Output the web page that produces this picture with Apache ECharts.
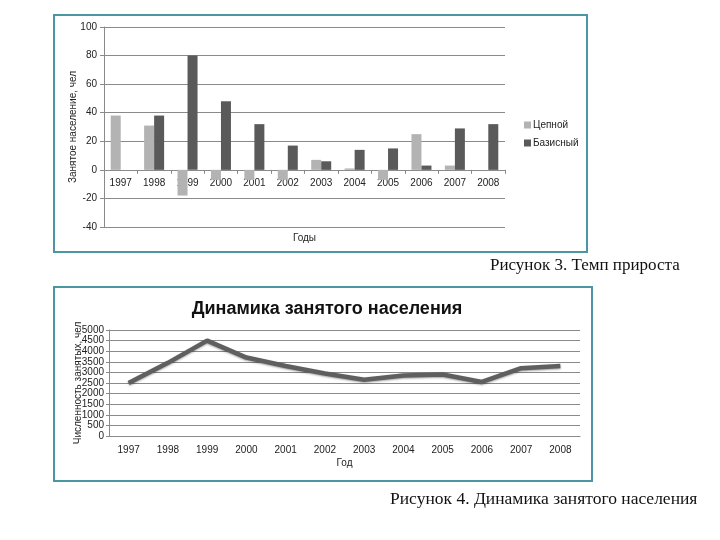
<!DOCTYPE html>
<html>
<head>
<meta charset="utf-8">
<script src="https://cdn.jsdelivr.net/npm/echarts@6/dist/echarts.min.js"></script>
<style>html,body{margin:0;padding:0;background:#fff}#c{width:720px;height:540px}</style>
</head>
<body>
<div id="c"></div>
<script>
const years = ['1997','1998','1999','2000','2001','2002','2003','2004','2005','2006','2007','2008'];
const chainValues = [38, 31, -18, -7, -7, -7, 7, 1, -7, 25, 3, 0];
const baseValues = [0, 38, 80, 48, 32, 17, 6, 14, 15, 3, 29, 32];
const employedValues = [2500, 3450, 4500, 3700, 3300, 2950, 2650, 2850, 2900, 2550, 3200, 3300];

const chart = echarts.init(document.getElementById('c'));
const F = 'Liberation Sans, Arial, sans-serif';
const gridLine = {show: true, lineStyle: {color: '#8a8a8a', width: 1}};
const axisLn = {show: true, lineStyle: {color: '#8a8a8a', width: 1}};
const plain = v => String(v);
chart.setOption({
  backgroundColor: '#ffffff',
  animation: false,
  title: {
    text: 'Динамика занятого населения',
    left: 322, top: 295, textAlign: 'center',
    textStyle: {fontFamily: F, fontSize: 18, fontWeight: 'bold', color: '#111'}
  },
  legend: {
    orient: 'vertical', left: 519, top: 115, itemWidth: 7, itemHeight: 7, itemGap: 8,
    icon: 'rect', data: ['Цепной', 'Базисный'],
    textStyle: {fontFamily: F, fontSize: 10, color: '#222', padding: [0, 0, 0, -3]}
  },
  grid: [
    {left: 104, right: 215, top: 27, height: 200},
    {left: 109, right: 140, top: 330, height: 106}
  ],
  xAxis: [
    {type: 'category', gridIndex: 0, data: years, offset: -57.14,
     axisLine: {show: true, onZero: false, lineStyle: {color: '#8a8a8a'}},
     axisTick: {show: true, length: 4, lineStyle: {color: '#8a8a8a'}},
     axisLabel: {fontFamily: F, fontSize: 10, color: '#222', margin: 8},
     name: 'Годы', nameLocation: 'middle', nameGap: 63,
     nameTextStyle: {fontFamily: F, fontSize: 10, color: '#222'}},
    {type: 'category', gridIndex: 1, data: years,
     axisLine: axisLn,
     axisTick: {show: false},
     axisLabel: {fontFamily: F, fontSize: 10, color: '#222', margin: 9},
     name: 'Год', nameLocation: 'middle', nameGap: 22,
     nameTextStyle: {fontFamily: F, fontSize: 10, color: '#222'}}
  ],
  yAxis: [
    {type: 'value', gridIndex: 0, min: -40, max: 100, interval: 20,
     axisLine: axisLn, axisTick: {show: true, length: 4, lineStyle: {color: '#8a8a8a'}},
     splitLine: gridLine,
     axisLabel: {fontFamily: F, fontSize: 10, color: '#222', margin: 7, formatter: plain},
     name: 'Занятое население, чел', nameLocation: 'middle', nameGap: 26, nameRotate: 90,
     nameMoveOverlap: false,
     nameTextStyle: {fontFamily: F, fontSize: 10, color: '#222'}},
    {type: 'value', gridIndex: 1, min: 0, max: 5000, interval: 500,
     axisLine: axisLn, axisTick: {show: true, length: 3, lineStyle: {color: '#8a8a8a'}},
     splitLine: gridLine,
     axisLabel: {fontFamily: F, fontSize: 10, color: '#222', margin: 5, formatter: plain},
     name: 'Численность занятых, чел', nameLocation: 'middle', nameGap: 26, nameRotate: 90,
     nameMoveOverlap: false,
     nameTextStyle: {fontFamily: F, fontSize: 10, color: '#222'}}
  ],
  series: [
    {name: 'Цепной', type: 'bar', xAxisIndex: 0, yAxisIndex: 0, data: chainValues,
     barWidth: 10, barGap: '0%', itemStyle: {color: '#b3b3b3'}},
    {name: 'Базисный', type: 'bar', xAxisIndex: 0, yAxisIndex: 0, data: baseValues,
     barWidth: 10, barGap: '0%', itemStyle: {color: '#5a5a5a'}},
    {name: 'Численность', type: 'line', xAxisIndex: 1, yAxisIndex: 1, data: employedValues,
     showSymbol: false, symbol: 'none',
     lineStyle: {color: '#5f5f5f', width: 4.5, shadowColor: 'rgba(0,0,0,0.35)', shadowBlur: 2, shadowOffsetY: 1}}
  ],
  graphic: [
    {type: 'rect', shape: {x: 54, y: 15, width: 533, height: 237},
     style: {fill: 'none', stroke: '#4a97a3', lineWidth: 2}, silent: true},
    {type: 'rect', shape: {x: 54, y: 287, width: 538, height: 194},
     style: {fill: 'none', stroke: '#4a97a3', lineWidth: 2}, silent: true},
    {type: 'text', left: 490, top: 257,
     style: {text: 'Рисунок 3. Темп прироста', font: '17px "Liberation Serif", serif', fill: '#111'}},
    {type: 'text', left: 390, top: 490,
     style: {text: 'Рисунок 4. Динамика занятого населения', font: '17.5px "Liberation Serif", serif', fill: '#111'}}
  ]
});
</script>
</body>
</html>
